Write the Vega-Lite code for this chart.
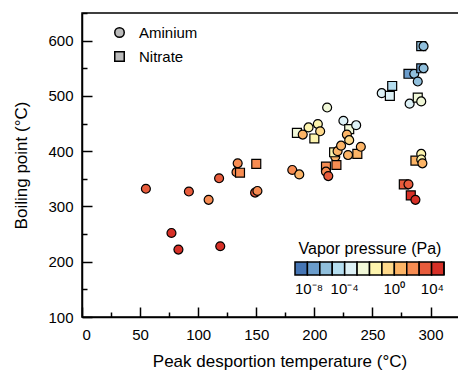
{
  "$schema": "https://vega.github.io/schema/vega-lite/v6.json",
  "width": 395,
  "height": 304,
  "autosize": "none",
  "padding": {"left": 82, "top": 13, "right": 0, "bottom": 57},
  "background": "white",
  "config": {
    "font": "Liberation Sans",
    "view": {"stroke": "black", "strokeWidth": 1.5},
    "legend": {"gradientHorizontalMaxLength": 149, "gradientHorizontalMinLength": 149}
  },
  "data": {
    "values": [
      {"t": 55, "bp": 332, "type": "Aminium", "lvp": 2.2},
      {"t": 77, "bp": 252, "type": "Aminium", "lvp": 3.2},
      {"t": 83, "bp": 222, "type": "Aminium", "lvp": 3.6},
      {"t": 92, "bp": 327, "type": "Aminium", "lvp": 2.2},
      {"t": 109, "bp": 312, "type": "Aminium", "lvp": 1.3},
      {"t": 118, "bp": 351, "type": "Aminium", "lvp": 2.2},
      {"t": 119, "bp": 228, "type": "Aminium", "lvp": 3.6},
      {"t": 134, "bp": 378, "type": "Aminium", "lvp": 1.3},
      {"t": 133, "bp": 362, "type": "Aminium", "lvp": 1.3},
      {"t": 136, "bp": 361, "type": "Nitrate", "lvp": 1.3},
      {"t": 150, "bp": 377, "type": "Nitrate", "lvp": 1.3},
      {"t": 149, "bp": 325, "type": "Aminium", "lvp": 2.2},
      {"t": 151, "bp": 328, "type": "Aminium", "lvp": 1.3},
      {"t": 181, "bp": 366, "type": "Aminium", "lvp": 1.3},
      {"t": 187, "bp": 358, "type": "Aminium", "lvp": 0.3},
      {"t": 185, "bp": 433, "type": "Nitrate", "lvp": -2.5},
      {"t": 190, "bp": 430, "type": "Aminium", "lvp": 0.3},
      {"t": 195, "bp": 443, "type": "Aminium", "lvp": -1.5},
      {"t": 200, "bp": 423, "type": "Nitrate", "lvp": -1.5},
      {"t": 203, "bp": 449, "type": "Aminium", "lvp": -1.5},
      {"t": 205, "bp": 436, "type": "Aminium", "lvp": -0.5},
      {"t": 211, "bp": 479, "type": "Aminium", "lvp": -2.5},
      {"t": 210, "bp": 372, "type": "Nitrate", "lvp": 1.3},
      {"t": 210, "bp": 363, "type": "Aminium", "lvp": 1.3},
      {"t": 212, "bp": 355, "type": "Aminium", "lvp": 2.2},
      {"t": 218, "bp": 390, "type": "Aminium", "lvp": 0.3},
      {"t": 217, "bp": 398, "type": "Nitrate", "lvp": -1.5},
      {"t": 219, "bp": 375, "type": "Nitrate", "lvp": 1.3},
      {"t": 220, "bp": 400, "type": "Aminium", "lvp": 0.3},
      {"t": 223, "bp": 410, "type": "Aminium", "lvp": 0.3},
      {"t": 225, "bp": 455, "type": "Aminium", "lvp": -3.5},
      {"t": 230, "bp": 440, "type": "Nitrate", "lvp": -2.5},
      {"t": 228, "bp": 430, "type": "Aminium", "lvp": 0.3},
      {"t": 230, "bp": 420, "type": "Aminium", "lvp": -0.5},
      {"t": 229, "bp": 393, "type": "Aminium", "lvp": 0.3},
      {"t": 237, "bp": 395, "type": "Nitrate", "lvp": 0.3},
      {"t": 236, "bp": 447, "type": "Aminium", "lvp": -3.5},
      {"t": 240, "bp": 408, "type": "Aminium", "lvp": 0.3},
      {"t": 258, "bp": 505, "type": "Aminium", "lvp": -3.5},
      {"t": 265, "bp": 500, "type": "Nitrate", "lvp": -3.5},
      {"t": 267, "bp": 518, "type": "Nitrate", "lvp": -4.5},
      {"t": 281, "bp": 540, "type": "Nitrate", "lvp": -6.5},
      {"t": 286, "bp": 540, "type": "Aminium", "lvp": -5.5},
      {"t": 289, "bp": 526, "type": "Aminium", "lvp": -5.5},
      {"t": 282, "bp": 486, "type": "Aminium", "lvp": -3.5},
      {"t": 289, "bp": 497, "type": "Nitrate", "lvp": -2.5},
      {"t": 292, "bp": 490, "type": "Aminium", "lvp": -2.5},
      {"t": 292, "bp": 590, "type": "Nitrate", "lvp": -5.5},
      {"t": 294, "bp": 590, "type": "Aminium", "lvp": -5.5},
      {"t": 292, "bp": 550, "type": "Nitrate", "lvp": -6.5},
      {"t": 294, "bp": 550, "type": "Aminium", "lvp": -5.5},
      {"t": 287, "bp": 383, "type": "Nitrate", "lvp": 0.3},
      {"t": 292, "bp": 395, "type": "Aminium", "lvp": -1.5},
      {"t": 292, "bp": 385, "type": "Aminium", "lvp": -1.5},
      {"t": 293, "bp": 378, "type": "Aminium", "lvp": 0.3},
      {"t": 277, "bp": 340, "type": "Nitrate", "lvp": 2.2},
      {"t": 281, "bp": 340, "type": "Aminium", "lvp": 2.2},
      {"t": 283, "bp": 320, "type": "Nitrate", "lvp": 3.2},
      {"t": 287, "bp": 312, "type": "Aminium", "lvp": 3.2}
    ]
  },
  "mark": {"type": "point", "filled": true, "stroke": "black", "strokeWidth": 1.2, "size": 80, "opacity": 1},
  "encoding": {
    "x": {
      "field": "t", "type": "quantitative",
      "scale": {"domain": [0, 340], "nice": false, "zero": false},
      "axis": {
        "title": "Peak desportion temperature (°C)",
        "values": [0, 25, 50, 75, 100, 125, 150, 175, 200, 225, 250, 275, 300, 325],
        "labelExpr": "datum.value % 50 === 0 ? datum.label : ''",
        "tickSize": {"condition": {"test": "datum.value % 50 === 0", "value": -10}, "value": -5},
        "labelPadding": 20,
        "labelFontSize": 15, "labelColor": "black",
        "domainColor": "black", "domainWidth": 1.5,
        "tickColor": "black", "tickWidth": 1.5,
        "grid": false,
        "titleFontSize": 17, "titleFontWeight": "normal", "titleColor": "black",
        "titlePadding": 11
      }
    },
    "y": {
      "field": "bp", "type": "quantitative",
      "scale": {"domain": [100, 650], "nice": false, "zero": false},
      "axis": {
        "title": "Boiling point (°C)",
        "values": [100, 150, 200, 250, 300, 350, 400, 450, 500, 550, 600, 650],
        "labelExpr": "datum.value % 100 === 0 ? datum.label : ''",
        "tickSize": {"condition": {"test": "datum.value % 100 === 0", "value": -10}, "value": -5},
        "labelPadding": 19,
        "labelFontSize": 15, "labelColor": "black",
        "domainColor": "black", "domainWidth": 1.5,
        "tickColor": "black", "tickWidth": 1.5,
        "grid": false,
        "titleFontSize": 17, "titleFontWeight": "normal", "titleColor": "black",
        "titlePadding": 17
      }
    },
    "shape": {
      "field": "type", "type": "nominal",
      "scale": {"domain": ["Aminium", "Nitrate"], "range": ["circle", "square"]},
      "legend": {
        "title": null, "orient": "none", "legendX": 30, "legendY": 12,
        "symbolFillColor": "#bbbbbb", "symbolStrokeColor": "black", "symbolStrokeWidth": 1.5,
        "symbolSize": 90, "labelFontSize": 15, "labelColor": "black", "rowPadding": 7,
        "labelOffset": 12
      }
    },
    "color": {
      "field": "lvp", "type": "quantitative",
      "scale": {
        "type": "quantize", "domain": [-8, 4], "nice": false,
        "range": ["#4575b4", "#6b9dcc", "#90bfdc", "#b5def0", "#ddf1f6", "#f1f8d8", "#fdf4ae", "#fed98b", "#fcb466", "#f78c52", "#e85c3c", "#d73027"]
      },
      "legend": {
        "type": "gradient",
        "values": [-8, -7, -6, -5, -4, -3, -2, -1, 0, 1, 2, 3, 4],
        "title": "Vapor pressure (Pa)", "orient": "none", "direction": "horizontal",
        "legendX": 213, "legendY": 228,
        "gradientLength": 149, "gradientThickness": 13,
        "gradientStrokeColor": "black", "gradientStrokeWidth": 1.5,
        "titleFontSize": 16, "titleFontWeight": "normal", "titleColor": "black", "titleAnchor": "middle",
        "labelFontSize": 15, "labelColor": "black", "labelAlign": "center", "labelOverlap": false,
        "labelOffset": 7,
        "labelExpr": "round(datum.value) === -8 ? '10⁻⁸' : round(datum.value) === -4 ? '10⁻⁴' : round(datum.value) === 0 ? '10⁰' : round(datum.value) === 4 ? '10⁴' : ''",
        "encode": {"labels": {"update": {"align": {"value": "center"}}}}
      }
    }
  }
}
